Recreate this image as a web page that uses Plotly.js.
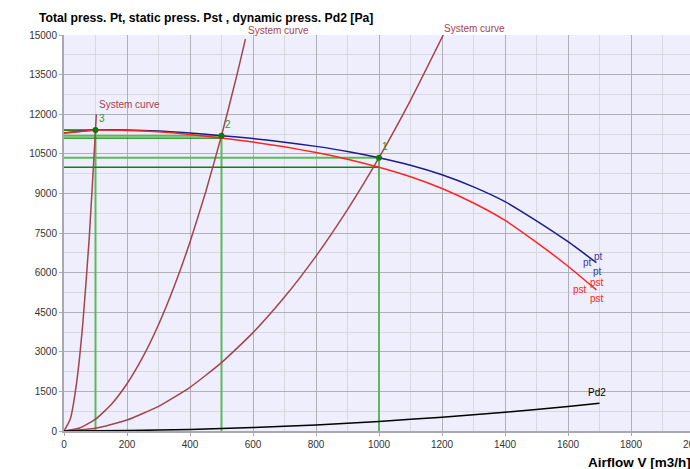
<!DOCTYPE html>
<html>
<head>
<meta charset="utf-8">
<script src="https://cdn.plot.ly/plotly-3.0.1.min.js"></script>
<style>
html, body { margin:0; padding:0; overflow:hidden; background:#fff; }
#chart { width:720px; height:469px; }
</style>
</head>
<body>
<div id="chart"></div>
<script>
// ---- Data ----
const flow    = [0, 100, 200, 300, 400, 500, 600, 700, 800, 900, 1000, 1100, 1200, 1300, 1400, 1500, 1600, 1690];
const ptVals  = [11290, 11400, 11400, 11365, 11285, 11186, 11076, 10941, 10781, 10591, 10353, 10068, 9708, 9248, 8688, 7960, 7170, 6380];
const pstVals = [11290, 11396, 11385, 11332, 11227, 11095, 10945, 10763, 10549, 10297, 9990, 9629, 9185, 8635, 7977, 7143, 6241, 5343];

const pd2Flow = [0, 200, 400, 600, 800, 1000, 1200, 1400, 1600, 1700];
const pd2Vals = [0, 15, 58, 131, 232, 363, 523, 711, 929, 1049];

const sys1Flow = [0, 100, 200, 300, 400, 500, 600, 700, 800, 900, 1000, 1100, 1204];
const sys1Vals = [0, 104, 414, 932, 1656, 2588, 3727, 5073, 6626, 8386, 10353, 12527, 15000];
const sys2Flow = [0, 50, 100, 150, 200, 250, 300, 350, 400, 450, 500, 550, 576];
const sys2Vals = [0, 112, 447, 1007, 1790, 2797, 4027, 5481, 7159, 9061, 11186, 13535, 14845];
const sys3Flow = [0, 20, 40, 60, 80, 100, 102.6];
const sys3Vals = [0, 456, 1824, 4104, 7296, 11400, 12000];

const opFlow   = [100, 500, 1000];
const opPt     = [11400, 11186, 10353];
const opPst    = [11396, 11095, 9990];
const opLabels = ['3', '2', '1'];

const sysLabelFlow = [108, 581, 1203];
const sysLabelP    = [12368, 15000, 15000];
const sysLabelLift = [0, 4.5, 7];

const xTicks = [0, 200, 400, 600, 800, 1000, 1200, 1400, 1600, 1800, 2000];
const yTicks = [0, 1500, 3000, 4500, 6000, 7500, 9000, 10500, 12000, 13500, 15000];

// ---- Styles ----
const FONT = 'Liberation Sans, Arial, sans-serif';
const C_PT = '#1c1c8a', C_PST = '#ff2424', C_SYS = '#a4444c', C_PD2 = '#000000';
const C_GL = '#5cb85c', C_GD = '#0a840a';

const traces = [];
for (let i = 0; i < opFlow.length; i++) {
  traces.push({x:[opFlow[i], opFlow[i]], y:[0, opPt[i]], mode:'lines', line:{color:C_GL, width:2}, hoverinfo:'skip'});
  traces.push({x:[0, opFlow[i]], y:[opPt[i], opPt[i]], mode:'lines', line:{color:C_GL, width:2}, hoverinfo:'skip'});
  traces.push({x:[0, opFlow[i]], y:[opPst[i], opPst[i]], mode:'lines', line:{color:C_GD, width:1.3}, hoverinfo:'skip'});
}
[[sys1Flow, sys1Vals], [sys2Flow, sys2Vals], [sys3Flow, sys3Vals]].forEach(function(s){
  traces.push({x:s[0], y:s[1], mode:'lines', line:{color:C_SYS, width:1.5, shape:'spline', smoothing:0.5}, hoverinfo:'skip'});
});
traces.push({x:flow, y:ptVals, mode:'lines', line:{color:C_PT, width:1.5, shape:'spline', smoothing:0.5}});
traces.push({x:flow, y:pstVals, mode:'lines', line:{color:C_PST, width:1.5, shape:'spline', smoothing:0.5}});
traces.push({x:pd2Flow, y:pd2Vals, mode:'lines', line:{color:C_PD2, width:1.5, shape:'spline', smoothing:0.5}});
traces.push({x:opFlow, y:opPt, mode:'markers', marker:{color:'#0a7a0a', size:6}});

const annotations = [];
for (let i = 0; i < sysLabelFlow.length; i++) {
  annotations.push({x:sysLabelFlow[i], y:sysLabelP[i], xref:'x', yref:'y', text:'System curve',
    showarrow:false, xanchor:'left', yanchor:'middle', yshift:sysLabelLift[i], borderpad:0,
    font:{family:FONT, size:10, color:C_SYS}});
}
for (let i = 0; i < opFlow.length; i++) {
  annotations.push({x:opFlow[i], y:opPt[i], xref:'x', yref:'y', text:opLabels[i], showarrow:false,
    xanchor:'left', yanchor:'bottom', xshift:1, yshift:4, font:{family:FONT, size:10, color:'#2a9a2a'}});
}
const ptEndX = flow[flow.length-1], ptEndY = ptVals[ptVals.length-1];
const pstEndY = pstVals[pstVals.length-1];
[[2,6],[-9,0],[1,-9]].forEach(function(o){
  annotations.push({x:ptEndX, y:ptEndY, xref:'x', yref:'y', text:'pt', showarrow:false, xanchor:'center', yanchor:'middle',
    xshift:o[0], yshift:o[1], font:{family:FONT, size:10, color:'#3c3ca0'}});
});
[[1,7],[-16,0],[1,-9]].forEach(function(o){
  annotations.push({x:ptEndX, y:pstEndY, xref:'x', yref:'y', text:'pst', showarrow:false, xanchor:'center', yanchor:'middle',
    xshift:o[0], yshift:o[1], font:{family:FONT, size:10, color:C_PST}});
});
annotations.push({x:pd2Flow[pd2Flow.length-1], y:pd2Vals[pd2Vals.length-1], xref:'x', yref:'y', text:'Pd2', showarrow:false,
  xanchor:'center', yanchor:'bottom', xshift:-3, yshift:3, font:{family:FONT, size:10, color:'#000'}});
annotations.push({xref:'paper', yref:'paper', x:(693-64)/630, y:-31/396, xanchor:'right', yanchor:'middle',
  text:'<b>Airflow V [m3/h]</b>', showarrow:false, font:{family:FONT, size:13.5, color:'#000'}});
annotations.push({xref:'paper', yref:'paper', x:-26/630, y:1, yshift:17, xanchor:'left', yanchor:'middle', borderpad:0,
  text:'<b>Total press. Pt, static press. Pst , dynamic press. Pd2 [Pa]</b>', showarrow:false,
  font:{family:FONT, size:12.2, color:'#000'}});

const axisCommon = {
  showgrid:true, gridcolor:'#b0b0b8', gridwidth:1,
  showline:true, linecolor:'#a8a8b0', linewidth:2,
  ticks:'outside', ticklen:3, tickcolor:'#a8a8b0',
  tickfont:{family:FONT, size:10, color:'#333'},
  zeroline:false, fixedrange:true, tickformat:'d'
};

const layout = {
  width:720, height:469,
  margin:{l:64, r:26, t:35, b:38},
  paper_bgcolor:'#ffffff', plot_bgcolor:'#eeeefc',
  showlegend:false,
  xaxis:Object.assign({}, axisCommon, {range:[0,2000], tickvals:xTicks,
    minor:{tickvals:[100,300,500,700,900,1100,1300,1500,1700,1900], showgrid:true, gridcolor:'#d8d8e0', ticks:''}}),
  yaxis:Object.assign({}, axisCommon, {range:[0,15000], tickvals:yTicks,
    minor:{tickvals:[750,2250,3750,5250,6750,8250,9750,11250,12750,14250], showgrid:true, gridcolor:'#d8d8e0', ticks:''}}),
  annotations:annotations
};

Plotly.newPlot('chart', traces, layout, {displayModeBar:false, staticPlot:true});
</script>
</body>
</html>
